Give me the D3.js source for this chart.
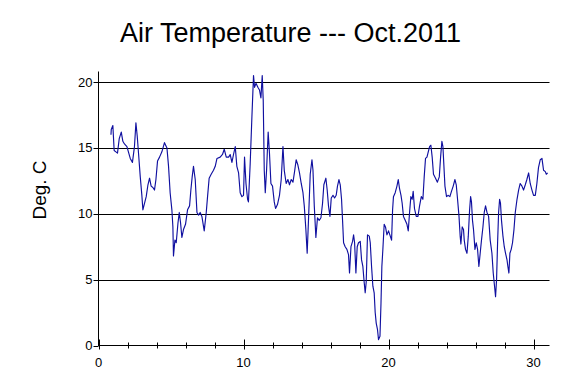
<!DOCTYPE html>
<html><head><meta charset="utf-8">
<script src="https://cdn.jsdelivr.net/npm/d3@7"></script>
<style>
html,body{margin:0;padding:0;background:#fff;}
svg{display:block;}
text{font-family:"Liberation Sans",Arial,sans-serif;fill:#000;}
</style></head>
<body>
<svg id="c" width="585" height="378"></svg>
<script>
const title = "Air Temperature --- Oct.2011";
const yLabel = "Deg. C";
const xMajorTicks = [0, 10, 20, 30];
const xMinorTicks = [2, 4, 6, 8, 12, 14, 16, 18, 22, 24, 26, 28];
const yTicks = [0, 5, 10, 15, 20];
const gridValues = [5, 10, 15, 20];

const days = [
0.86,0.88,0.99,1.08,1.20,1.31,1.43,1.57,1.68,1.79,1.96,2.19,2.34,2.48,2.58,2.67,2.76,2.88,2.99,3.06,
3.15,3.29,3.41,3.52,3.63,3.75,3.86,3.96,4.07,4.21,4.37,4.55,4.72,4.83,4.94,5.06,5.13,5.17,5.27,5.36,
5.48,5.57,5.66,5.75,5.86,6.00,6.14,6.28,6.37,6.46,6.55,6.67,6.79,6.90,7.01,7.13,7.29,7.43,7.52,7.63,
7.77,7.93,8.05,8.17,8.39,8.55,8.67,8.81,8.97,9.08,9.20,9.31,9.43,9.54,9.66,9.77,9.89,10.00,10.07,10.17,
10.28,10.34,10.46,10.58,10.69,10.76,10.86,10.99,11.10,11.20,11.29,11.36,11.43,11.50,11.59,11.70,11.79,11.89,12.00,12.12,
12.21,12.34,12.48,12.60,12.72,12.81,12.94,13.06,13.17,13.29,13.41,13.52,13.63,13.75,13.86,13.98,14.10,14.19,14.30,14.39,
14.48,14.60,14.72,14.79,14.88,14.99,15.10,15.22,15.34,15.45,15.54,15.68,15.77,15.86,15.96,16.05,16.17,16.28,16.39,16.48,
16.58,16.67,16.76,16.83,16.90,17.01,17.13,17.24,17.31,17.41,17.52,17.59,17.66,17.75,17.84,17.93,18.05,18.14,18.23,18.32,
18.39,18.46,18.55,18.67,18.74,18.83,18.92,19.01,19.08,19.15,19.24,19.31,19.41,19.48,19.54,19.61,19.70,19.79,19.89,20.00,
20.12,20.21,20.28,20.34,20.46,20.58,20.67,20.76,20.86,20.94,21.03,21.15,21.27,21.36,21.45,21.54,21.63,21.70,21.79,21.91,
22.03,22.14,22.26,22.37,22.46,22.55,22.65,22.74,22.83,22.92,23.01,23.10,23.24,23.37,23.50,23.59,23.68,23.75,23.82,23.89,
24.00,24.12,24.23,24.34,24.46,24.58,24.67,24.76,24.86,24.94,24.99,25.08,25.17,25.22,25.31,25.41,25.50,25.59,25.66,25.72,
25.79,25.86,25.96,26.05,26.14,26.23,26.32,26.41,26.51,26.60,26.69,26.79,26.90,27.01,27.13,27.22,27.31,27.38,27.45,27.52,
27.59,27.66,27.72,27.79,27.89,27.98,28.07,28.17,28.23,28.30,28.37,28.46,28.55,28.65,28.74,28.86,28.97,29.08,29.20,29.31,
29.43,29.54,29.66,29.77,29.89,30.00,30.12,30.23,30.34,30.46,30.58,30.69,30.81,30.88,30.97
];
const temps = [
16.0,16.4,16.7,14.8,14.7,14.6,15.7,16.2,15.5,15.3,15.1,14.2,13.9,15.1,16.9,15.9,14.6,12.8,11.4,10.3,
10.7,11.3,12.2,12.7,12.1,12.0,11.8,12.6,14.0,14.3,14.7,15.4,15.0,13.6,11.6,10.3,9.0,6.8,8.0,7.8,
9.3,10.1,9.3,8.2,8.8,9.2,10.3,10.6,11.8,12.8,13.6,12.6,10.1,9.9,10.1,9.8,8.7,10.1,11.3,12.7,
13.0,13.3,13.6,14.2,14.3,14.5,14.9,14.3,14.3,14.5,13.9,14.5,15.1,13.6,13.1,11.6,11.3,11.4,14.3,12.3,
11.1,10.9,13.8,17.4,20.5,19.6,19.9,19.6,19.4,18.8,20.5,18.6,13.3,11.6,13.3,16.2,14.6,12.3,12.1,10.9,
10.4,10.7,11.4,12.6,15.1,13.3,12.3,12.6,12.2,12.6,12.4,13.2,14.1,13.7,13.1,12.3,11.6,10.6,8.8,7.0,
9.5,13.0,14.1,13.3,10.6,8.2,9.7,9.5,9.7,10.8,12.2,12.7,11.8,10.6,9.8,11.2,11.4,11.2,11.4,12.1,
12.6,12.2,11.1,9.5,7.8,7.5,7.3,6.9,5.5,7.5,7.9,8.4,7.8,5.5,7.5,7.8,7.9,6.5,6.0,4.8,
4.0,4.8,8.4,8.3,7.8,6.0,4.5,4.0,2.5,1.7,1.2,0.45,0.7,3.2,6.0,7.3,9.2,9.0,8.4,8.7,
8.3,8.0,10.3,11.3,11.6,12.1,12.6,11.9,11.4,10.8,9.8,9.5,9.2,8.7,10.1,11.3,11.1,11.7,10.4,9.8,
9.8,10.6,11.3,11.1,12.8,14.2,14.3,14.7,15.1,15.2,14.3,13.0,12.7,12.4,12.8,14.3,15.5,15.1,13.6,12.1,
11.3,11.4,11.3,11.7,12.1,12.6,12.2,11.1,9.8,8.3,7.7,9.0,8.8,8.0,7.3,7.0,8.3,10.3,11.3,10.9,
9.5,8.8,7.3,7.8,7.3,6.0,7.0,8.0,9.0,10.1,10.6,10.1,9.8,8.0,7.0,5.5,4.5,3.7,5.0,7.8,
10.1,11.1,10.8,9.5,8.3,7.5,7.0,6.5,6.0,5.5,7.0,7.3,7.8,8.8,10.1,11.1,11.8,12.3,12.1,11.8,
12.2,12.6,13.1,12.3,11.8,11.4,11.4,12.3,13.5,14.1,14.2,13.3,13.2,13.0,13.1
];

const svg = d3.select("#c");
const x = d3.scaleLinear().domain([0, 31.1]).range([98.5, 549.5]);
const y = d3.scaleLinear().domain([0, 20.8]).range([345.5, 71.5]);

// grid
svg.append("g").selectAll("line").data(gridValues).join("line")
  .attr("x1", x(0)).attr("x2", x(31.1))
  .attr("y1", d => Math.round(y(d)) + 0.5).attr("y2", d => Math.round(y(d)) + 0.5)
  .attr("stroke", "#000").attr("stroke-width", 1);

// data line
const pts = days.map((d, i) => [d, temps[i]]);
svg.append("path").datum(pts)
  .attr("fill", "none").attr("stroke", "#1010a0").attr("stroke-width", 1.15)
  .attr("stroke-linejoin", "round")
  .attr("d", d3.line().x(d => x(d[0])).y(d => y(d[1])));

// axes lines
const x0 = x(0), yb = y(0);
svg.append("line").attr("x1", x0).attr("x2", x0).attr("y1", y(20.8)).attr("y2", yb + 0.5)
  .attr("stroke", "#000");
svg.append("line").attr("x1", x0).attr("x2", x(31.1)).attr("y1", yb).attr("y2", yb)
  .attr("stroke", "#000");

// y ticks
svg.append("g").selectAll("line").data(yTicks).join("line")
  .attr("x1", x0 - 5).attr("x2", x0)
  .attr("y1", d => Math.round(y(d)) + 0.5).attr("y2", d => Math.round(y(d)) + 0.5)
  .attr("stroke", "#000");
svg.append("g").selectAll("text").data(yTicks).join("text")
  .attr("x", x0 - 6).attr("y", d => y(d) + 4.5)
  .attr("text-anchor", "end").attr("font-size", 13).text(d => d);

// x ticks
svg.append("g").selectAll("line").data(xMinorTicks).join("line")
  .attr("x1", d => Math.round(x(d)) + 0.5).attr("x2", d => Math.round(x(d)) + 0.5)
  .attr("y1", yb - 3).attr("y2", yb + 3).attr("stroke", "#000");
svg.append("g").selectAll("line").data(xMajorTicks).join("line")
  .attr("x1", d => Math.round(x(d)) + 0.5).attr("x2", d => Math.round(x(d)) + 0.5)
  .attr("y1", yb - 6).attr("y2", yb + 4).attr("stroke", "#000");
svg.append("g").selectAll("text").data(xMajorTicks).join("text")
  .attr("x", d => x(d)).attr("y", 367)
  .attr("text-anchor", "middle").attr("font-size", 13).text(d => d);

// title
svg.append("text").attr("x", 290.5).attr("y", 42).attr("text-anchor", "middle")
  .attr("font-size", 27).text(title);

// y label
svg.append("text").attr("transform", "translate(46,190) rotate(-90)")
  .attr("text-anchor", "middle").attr("font-size", 19).text(yLabel);
</script>
</body></html>
